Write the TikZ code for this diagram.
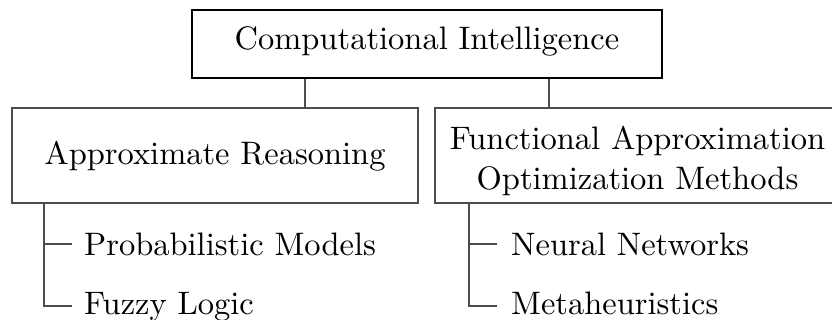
\documentclass[tikz,border=0pt]{standalone}
\usepackage{graphicx}
\newcommand\bigtext[1]{\scalebox{3.25}{\fontsize{10}{12.3}\selectfont #1}}
\begin{document}
\begin{tikzpicture}[x=1pt,y=1pt,
  topbox/.style={draw=black,line width=2.4pt,inner sep=0pt},
  catbox/.style={draw=black!70,line width=1.4pt,inner sep=0pt},
  link/.style={draw=black!70,line width=1.3pt},
  leaf/.style={anchor=base west,inner sep=0pt}]
\useasboundingbox (0,0) rectangle (832,-320);
\clip (0,0) rectangle (832,-320);
\node[topbox,minimum width=470pt,minimum height=68pt,text height=22pt,text depth=10pt] (ci) at (427,-44) {\bigtext{Computational Intelligence}};
\node[catbox,minimum width=406pt,minimum height=95pt,text height=24pt,text depth=5pt] (ar) at (215,-155.5) {\bigtext{Approximate Reasoning}};
\node[catbox,minimum width=405pt,minimum height=95pt,text height=28pt,text depth=39pt] (fa) at (637.5,-155.5) {\bigtext{\begin{tabular}[t]{@{}c@{}}Functional Approximation\\Optimization Methods\end{tabular}}};
\coordinate (cl) at (305,-78);
\coordinate (cr) at (549,-78);
\draw[link] (ci.south -| cl) -- (ar.north -| cl);
\draw[link] (ci.south -| cr) -- (fa.north -| cr);
\node[leaf] (pm) at (84,-256) {\bigtext{Probabilistic Models}};
\node[leaf] (fl) at (84,-314) {\bigtext{Fuzzy Logic}};
\node[leaf] (nn) at (511,-256) {\bigtext{Neural Networks}};
\node[leaf] (mh) at (511,-314) {\bigtext{Metaheuristics}};
\coordinate (lt) at (44,-203);
\coordinate (lm) at (44,-244);
\coordinate (lb) at (44,-306);
\coordinate (rt) at (469,-203);
\coordinate (rm) at (469,-244);
\coordinate (rb) at (469,-306);
\draw[link] (ar.south -| lt) -- (lb) -- ++(28,0);
\draw[link] (lm) -- ++(28,0);
\draw[link] (fa.south -| rt) -- (rb) -- ++(28,0);
\draw[link] (rm) -- ++(28,0);
\end{tikzpicture}
\end{document}
